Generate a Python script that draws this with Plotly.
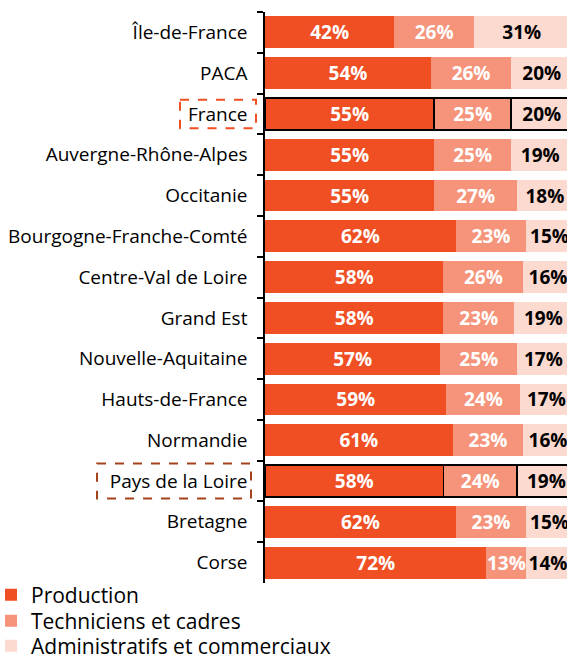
import plotly.graph_objects as go

regions = ["Île-de-France", "PACA", "France", "Auvergne-Rhône-Alpes", "Occitanie",
           "Bourgogne-Franche-Comté", "Centre-Val de Loire", "Grand Est",
           "Nouvelle-Aquitaine", "Hauts-de-France", "Normandie", "Pays de la Loire",
           "Bretagne", "Corse"]
production = [42, 54, 55, 55, 55, 62, 58, 58, 57, 59, 61, 58, 62, 72]
techniciens = [26, 26, 25, 25, 27, 23, 26, 23, 25, 24, 23, 24, 23, 13]
administratifs = [31, 20, 20, 19, 18, 15, 16, 19, 17, 17, 16, 19, 15, 14]
series_names = ["Production", "Techniciens et cadres", "Administratifs et commerciaux"]
colors = ["#F04E23", "#F5947A", "#FCDACF"]
text_colors = ["white", "white", "black"]
highlight = ["France", "Pays de la Loire"]

line_w = [1.5 if r in highlight else 0 for r in regions]

W = 302.0   # plot width in px
H = 571.0   # plot height in px
def px(x):
    return (x - 265) / W
def py(y):
    return (583 - y) / H

legend_ids = ["legend", "legend2", "legend3"]
legend_rows = [595, 621, 646]

fig = go.Figure()
for name, vals, col, tc, lid in zip(series_names, [production, techniciens, administratifs],
                                    colors, text_colors, legend_ids):
    fig.add_trace(go.Bar(
        y=regions, x=vals, name=name, orientation="h", legend=lid,
        marker=dict(color=col, line=dict(color="black", width=line_w)),
        text=[f"{v}%" for v in vals], textposition="inside",
        insidetextanchor="middle", constraintext="none",
        textfont=dict(family="Open Sans", size=19, color=tc, weight="bold"),
        hoverinfo="skip",
    ))

fig.add_shape(type="rect", xref="paper", yref="y", x0=px(180), x1=px(256),
              y0=2 - 0.35, y1=2 + 0.35, line=dict(color="#F04E23", width=2, dash="dash"))
fig.add_shape(type="rect", xref="paper", yref="y", x0=px(97), x1=px(251),
              y0=11 - 0.43, y1=11 + 0.43, line=dict(color="#A5421C", width=2, dash="dash"))

legend_common = dict(orientation="v", x=px(-9), xanchor="left", yanchor="middle",
                     font=dict(size=21), itemwidth=30, bgcolor="rgba(0,0,0,0)")

fig.update_layout(
    width=567, height=655,
    margin=dict(l=265, r=0, t=12, b=72, autoexpand=False),
    barmode="stack", bargap=0.22,
    plot_bgcolor="white", paper_bgcolor="white",
    font=dict(family="Open Sans", size=19, color="black"),
    showlegend=True,
    legend=dict(y=py(legend_rows[0]), **legend_common),
    legend2=dict(y=py(legend_rows[1]), **legend_common),
    legend3=dict(y=py(legend_rows[2]), **legend_common),
    xaxis=dict(range=[0, 98.2], visible=False, fixedrange=True),
    yaxis=dict(autorange="reversed", showline=True, linecolor="black", linewidth=1.5,
               ticks="outside", tickson="boundaries", ticklen=6, tickcolor="black",
               tickwidth=1.5, showgrid=False, ticklabelstandoff=12, automargin=False,
               tickfont=dict(size=19)),
)

fig.write_html("out.html", config={"displayModeBar": False},
               post_script="document.body.style.margin='0';document.body.style.overflow='hidden';")
